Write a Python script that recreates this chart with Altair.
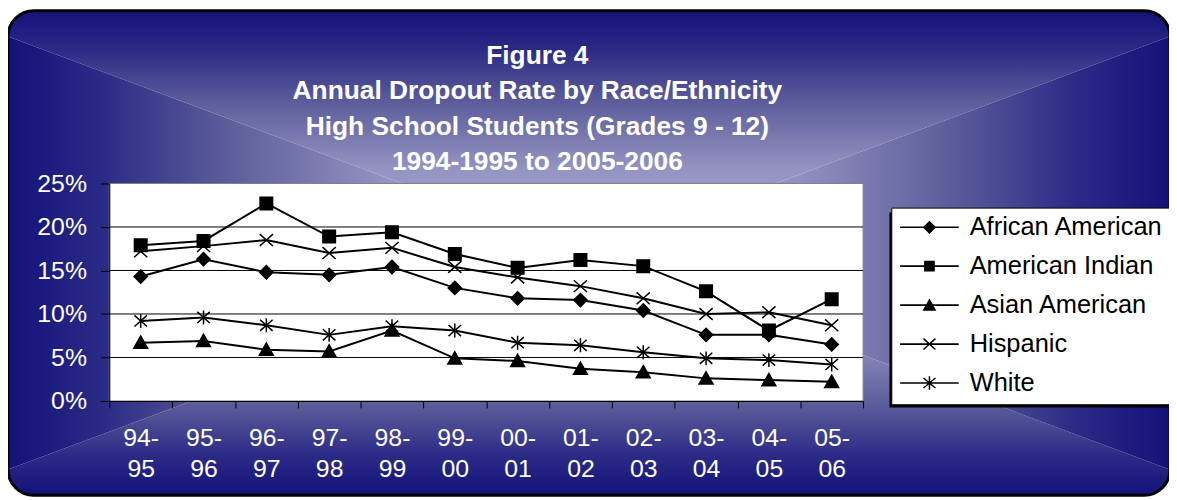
import altair as alt
import pandas as pd

# ---------------- data ----------------
categories = ["94-95", "95-96", "96-97", "97-98", "98-99", "99-00",
              "00-01", "01-02", "02-03", "03-04", "04-05", "05-06"]
series = ["African American", "American Indian", "Asian American", "Hispanic", "White"]
african_american = [14.3, 16.3, 14.8, 14.5, 15.4, 13.0, 11.8, 11.6, 10.4, 7.6, 7.6, 6.5]
american_indian = [17.9, 18.4, 22.7, 18.9, 19.4, 16.9, 15.3, 16.2, 15.5, 12.6, 8.1, 11.7]
asian_american = [6.7, 6.9, 5.9, 5.7, 8.1, 4.9, 4.6, 3.7, 3.3, 2.6, 2.4, 2.2]
hispanic = [17.2, 17.8, 18.5, 17.0, 17.6, 15.4, 14.2, 13.2, 11.8, 10.0, 10.2, 8.7]
white = [9.2, 9.6, 8.7, 7.6, 8.6, 8.1, 6.7, 6.4, 5.6, 4.9, 4.7, 4.2]
y_ticks = [0, 5, 10, 15, 20, 25]
grid_values = [5, 10, 15, 20]
title_lines = ["Figure 4",
               "Annual Dropout Rate by Race/Ethnicity",
               "High School Students (Grades 9 - 12)",
               "1994-1995 to 2005-2006"]

rows = []
for name, vals in zip(series, [african_american, american_indian, asian_american, hispanic, white]):
    for c, v in zip(categories, vals):
        rows.append({"year": c, "series": name, "rate": v})
df = pd.DataFrame(rows)
grid_df = pd.DataFrame({"rate": grid_values})
one = alt.Data(values=[{"k": 1}])

# ---------------- layout constants ----------------
W, H = 759, 219
FONT = "Liberation Sans"

# marker shapes for data points (unit space)
marker_paths = [
    "M0,-0.95L0.95,0L0,0.95L-0.95,0Z",
    "M-0.9,-0.9L0.9,-0.9L0.9,0.9L-0.9,0.9Z",
    "M0,-0.95L1,0.8L-1,0.8Z",
    "M-0.95,-0.85L0.95,0.85M-0.95,0.85L0.95,-0.85",
    "M-0.9,-0.8L0.9,0.8M-0.9,0.8L0.9,-0.8M0,-1L0,1",
]


# legend symbols: filled polygons only (line + marker), in px around the nominal centre
def poly(pts):
    area = 0.0
    for i in range(len(pts)):
        x1, y1 = pts[i]
        x2, y2 = pts[(i + 1) % len(pts)]
        area += x1 * y2 - x2 * y1
    if area < 0:
        pts = pts[::-1]
    s = 10.0
    return "M" + "L".join(f"{x / s:.3f},{y / s:.3f}" for x, y in pts) + "Z"


def bar(x1, y1, x2, y2, w):
    dx, dy = x2 - x1, y2 - y1
    ln = (dx * dx + dy * dy) ** 0.5
    nx, ny = -dy / ln * w, dx / ln * w
    return poly([(x1 + nx, y1 + ny), (x2 + nx, y2 + ny), (x2 - nx, y2 - ny), (x1 - nx, y1 - ny)])


MC = 18.6  # marker centre offset
base_line = bar(-10.9, 0, 48.1, 0, 0.85)
legend_paths = [
    base_line + poly([(MC, -6.7), (MC + 6.7, 0), (MC, 6.7), (MC - 6.7, 0)]),
    base_line + poly([(MC - 5.4, -5.4), (MC + 5.4, -5.4), (MC + 5.4, 5.4), (MC - 5.4, 5.4)]),
    base_line + poly([(MC, -6.8), (MC + 7, 5.6), (MC - 7, 5.6)]),
    base_line + bar(MC - 6, -5.5, MC + 6, 5.5, 0.75) + bar(MC - 6, 5.5, MC + 6, -5.5, 0.75),
    base_line + bar(MC - 6, -5, MC + 6, 5, 0.75) + bar(MC - 6, 5, MC + 6, -5, 0.75)
    + bar(MC, -6.8, MC, 6.8, 0.75),
]

# ---------------- background (rectangular path gradient) ----------------
stops = [
    {"offset": 0, "color": "#12127a"},
    {"offset": 0.16, "color": "#2a2a86"},
    {"offset": 0.37, "color": "#5b5b9a"},
    {"offset": 0.66, "color": "#9595c3"},
    {"offset": 1, "color": "#a8a8d2"},
]
CX, CY = 483, 70
pieces = [
    ("M-585,-218A26,26,0,0,1,-559,-244L559,-244A26,26,0,0,1,585,-218L0,0Z", (0, 0, 0, 1)),
    ("M585,218A26,26,0,0,1,559,244L-559,244A26,26,0,0,1,-585,218L0,0Z", (0, 1, 0, 0)),
    ("M-585,-218L0,0L-585,218Z", (0, 0, 1, 0)),
    ("M585,-218L585,218L0,0Z", (1, 0, 0, 0)),
]
bg_layers = []
for path, (x1, y1, x2, y2) in pieces:
    grad = {"gradient": "linear", "x1": x1, "y1": y1, "x2": x2, "y2": y2, "stops": stops}
    bg_layers.append(
        alt.Chart(one).mark_point(shape=path, size=4, filled=True, fill=grad,
                                  strokeWidth=0, opacity=1)
        .encode(x=alt.value(CX), y=alt.value(CY))
    )

frame = alt.Chart(one).mark_rect(fillOpacity=0, stroke="black", strokeWidth=3, cornerRadius=26).encode(
    x=alt.value(-102), x2=alt.value(1068), y=alt.value(-174), y2=alt.value(314))

legend_shadow = alt.Chart(one).mark_rect(color="black").encode(
    x=alt.value(785.5), x2=alt.value(1066.7), y=alt.value(29.3), y2=alt.value(225.5))

plot_bg = alt.Chart(one).mark_rect(fill="white", stroke="#808080", strokeWidth=1).encode(
    x=alt.value(0), x2=alt.value(W), y=alt.value(0), y2=alt.value(H))

# ---------------- scales / axes ----------------
x_enc = alt.X(
    "year:N", sort=categories, title=None,
    scale=alt.Scale(type="band", paddingInner=0, paddingOuter=0),
    axis=alt.Axis(
        orient="bottom", domain=True, domainColor="black", domainWidth=1,
        ticks=True, tickColor="black", tickSize=7, tickBand="extent",
        labelAngle=0, labelColor="white", labelFont=FONT, labelFontSize=25,
        labelLineHeight=30.7, labelPadding=18, labelOverlap=False, labelBound=False,
        labelExpr="[slice(datum.label, 0, 3), slice(datum.label, 3)]",
        grid=False, zindex=1,
    ),
)
y_scale = alt.Scale(domain=[0, 25], nice=False, zero=True)
y_axis = alt.Axis(
    values=y_ticks, labelExpr="datum.value + '%'",
    domain=True, domainColor="black", domainWidth=1,
    ticks=True, tickColor="black", tickSize=9,
    labelColor="white", labelFont=FONT, labelFontSize=25, labelPadding=14,
    labelOverlap=False, grid=False, zindex=1,
)
y_enc = alt.Y("rate:Q", scale=y_scale, title=None, axis=y_axis)

grid = alt.Chart(grid_df).mark_rule(color="black", strokeWidth=1).encode(y=y_enc)

lines = alt.Chart(df).mark_line(color="black", strokeWidth=2).encode(
    x=x_enc, y=y_enc, detail="series:N")

points = alt.Chart(df).mark_point(filled=True, color="black", stroke="black",
                                  strokeWidth=1.5, size=196, opacity=1).encode(
    x=x_enc, y=y_enc,
    shape=alt.Shape("series:N", scale=alt.Scale(domain=series, range=marker_paths), legend=None),
)

legend_layer = alt.Chart(df).mark_point(filled=True, color="black",
                                        size=196, opacity=0).encode(
    x=x_enc, y=y_enc,
    shape=alt.Shape(
        "series:N",
        scale=alt.Scale(domain=series, range=legend_paths),
        legend=alt.Legend(
            title=None, orient="none", legendX=787.4, legendY=24.3,
            fillColor="white", strokeColor="black", padding=7,
            symbolSize=400, symbolStrokeWidth=0, symbolFillColor="black",
            symbolOpacity=1,
            labelFont=FONT, labelFontSize=25.6, labelColor="black",
            labelOffset=46.3, labelLimit=400, rowPadding=12.2, zindex=1,
        ),
    ),
)

chart = alt.layer(
    *bg_layers, frame, legend_shadow, plot_bg, grid, lines, points, legend_layer
).resolve_scale(shape="independent").properties(
    width=W, height=H,
    title=alt.TitleParams(
        text=title_lines, font=FONT, fontSize=26.5, fontWeight="bold", color="white",
        lineHeight=35.3, anchor="middle", frame="group", baseline="alphabetic",
        offset=0, dx=51.5, dy=188, zindex=1,
    ),
    padding={"left": 102, "top": 175, "right": 308, "bottom": 97},
    autosize=alt.AutoSizeParams(type="none"),
).configure_view(strokeWidth=0).configure(background="white")

chart.save("out.html", embed_options={"renderer": "svg", "actions": False})
